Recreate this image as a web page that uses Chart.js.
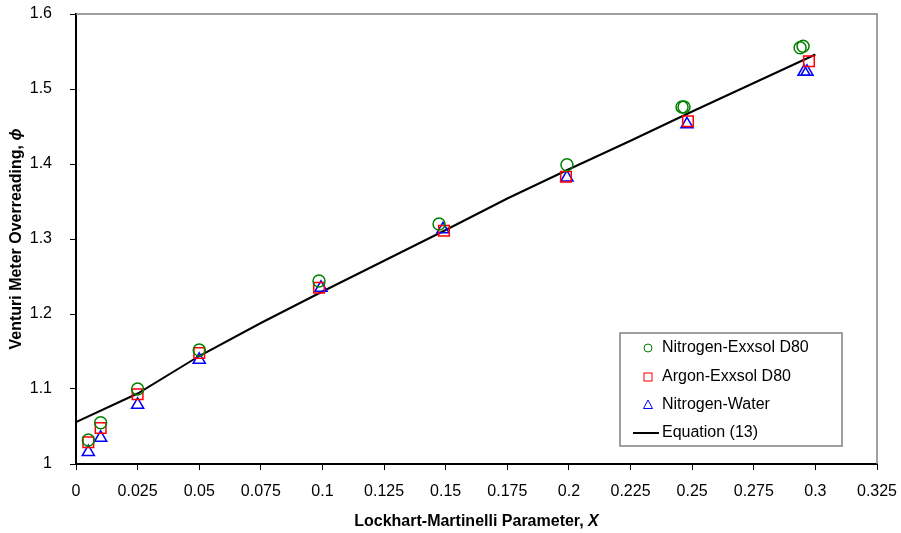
<!DOCTYPE html>
<html>
<head>
<meta charset="utf-8">
<title>Venturi Meter Overreading</title>
<script src="https://cdn.jsdelivr.net/npm/chart.js@4/dist/chart.umd.min.js"></script>
<style>
  body { margin: 0; background: #fff; }
  #wrap { width: 901px; height: 533px; position: relative; }
</style>
</head>
<body>
<div id="wrap"><canvas id="overreadingChart"></canvas></div>
<script>
// tick labels
const xTicks = [0, 0.025, 0.05, 0.075, 0.1, 0.125, 0.15, 0.175, 0.2, 0.225, 0.25, 0.275, 0.3, 0.325];
const yTicks = [1, 1.1, 1.2, 1.3, 1.4, 1.5, 1.6];

// series
const n2ExxsolX = [0.005, 0.01, 0.025, 0.05, 0.0986, 0.1473, 0.1992, 0.2459, 0.2467, 0.2938, 0.295];
const n2ExxsolY = [1.032, 1.055, 1.100, 1.152, 1.244, 1.320, 1.399, 1.476, 1.476, 1.555, 1.557];

const arExxsolX = [0.005, 0.01, 0.025, 0.05, 0.0986, 0.1493, 0.1988, 0.2483, 0.2974];
const arExxsolY = [1.029, 1.048, 1.093, 1.148, 1.235, 1.311, 1.383, 1.457, 1.537];

const n2WaterX = [0.005, 0.01, 0.025, 0.05, 0.0994, 0.1489, 0.1992, 0.2479, 0.2954, 0.2966];
const n2WaterY = [1.016, 1.035, 1.079, 1.139, 1.235, 1.313, 1.382, 1.453, 1.523, 1.523];

const eqX = [0, 0.025, 0.05, 0.075, 0.1, 0.125, 0.15, 0.175, 0.2, 0.225, 0.25, 0.275, 0.3];
const eqY = [1.056, 1.094, 1.144, 1.188, 1.230, 1.271, 1.312, 1.354, 1.393, 1.431, 1.470, 1.508, 1.546];

const seriesNames = ['Nitrogen-Exxsol D80', 'Argon-Exxsol D80', 'Nitrogen-Water', 'Equation (13)'];
const seriesColors = ['#008000', '#ff0000', '#0000ff', '#000000'];

const toPoints = (xs, ys) => xs.map((x, i) => ({ x: x, y: ys[i] }));

const FONT = "'Liberation Sans', Arial, sans-serif";
Chart.defaults.font.family = FONT;
Chart.defaults.font.size = 16;
Chart.defaults.color = '#000';

// gray top/right frame of the plot area
const framePlugin = {
  id: 'frame',
  beforeDatasetsDraw(chart) {
    const { ctx, chartArea: a } = chart;
    ctx.save();
    ctx.strokeStyle = '#808080';
    ctx.lineWidth = 1.5;
    ctx.beginPath();
    ctx.moveTo(a.left, a.top);
    ctx.lineTo(a.right, a.top);
    ctx.lineTo(a.right, a.bottom);
    ctx.stroke();
    ctx.restore();
  }
};

// draws mixed bold / bold-italic text centred on (0,0)
const drawMixed = (ctx, plain, ital) => {
  ctx.font = 'bold 16px ' + FONT;
  const w1 = ctx.measureText(plain).width;
  ctx.font = 'italic bold 16px ' + FONT;
  const w2 = ctx.measureText(ital).width;
  const start = -(w1 + w2) / 2;
  ctx.textBaseline = 'middle';
  ctx.textAlign = 'left';
  ctx.font = 'bold 16px ' + FONT;
  ctx.fillText(plain, start, 0);
  ctx.font = 'italic bold 16px ' + FONT;
  ctx.fillText(ital, start + w1, 0);
};

const titlesPlugin = {
  id: 'titles',
  afterDraw(chart) {
    const { ctx, chartArea: a } = chart;
    ctx.save();
    ctx.fillStyle = '#000';
    ctx.translate((a.left + a.right) / 2, 522);
    drawMixed(ctx, 'Lockhart-Martinelli Parameter, ', 'X');
    ctx.restore();

    ctx.save();
    ctx.fillStyle = '#000';
    ctx.translate(17, (a.top + a.bottom) / 2);
    ctx.rotate(-Math.PI / 2);
    drawMixed(ctx, 'Venturi Meter Overreading, ', '\u03D5');
    ctx.restore();
  }
};

// legend box in the lower right of the plot
const legendPlugin = {
  id: 'boxLegend',
  afterDraw(chart) {
    const ctx = chart.ctx;
    const bx = 620, by = 333, bw = 222, bh = 113;
    ctx.save();
    ctx.fillStyle = '#fff';
    ctx.fillRect(bx, by, bw, bh);
    ctx.strokeStyle = '#808080';
    ctx.lineWidth = 1.5;
    ctx.strokeRect(bx, by, bw, bh);

    const rows = [348, 377, 405, 433];
    const mx = 648;
    ctx.lineWidth = 1;
    // circle
    ctx.strokeStyle = seriesColors[0];
    ctx.beginPath();
    ctx.arc(mx, rows[0], 4, 0, Math.PI * 2);
    ctx.stroke();
    // square
    ctx.strokeStyle = seriesColors[1];
    ctx.strokeRect(mx - 4, rows[1] - 4, 8, 8);
    // triangle
    ctx.strokeStyle = seriesColors[2];
    ctx.beginPath();
    ctx.moveTo(mx, rows[2] - 5);
    ctx.lineTo(mx + 4.5, rows[2] + 3.5);
    ctx.lineTo(mx - 4.5, rows[2] + 3.5);
    ctx.closePath();
    ctx.stroke();
    // line
    ctx.strokeStyle = seriesColors[3];
    ctx.lineWidth = 2;
    ctx.beginPath();
    ctx.moveTo(633, rows[3]);
    ctx.lineTo(659, rows[3]);
    ctx.stroke();

    ctx.fillStyle = '#000';
    ctx.font = '16px ' + FONT;
    ctx.textBaseline = 'middle';
    ctx.textAlign = 'left';
    seriesNames.forEach((name, i) => {
      ctx.fillText(name, 662, rows[i]);
    });
    ctx.restore();
  }
};

const ctx = document.getElementById('overreadingChart').getContext('2d');
const config = {
  type: 'scatter',
  data: {
    datasets: [
      {
        label: seriesNames[0],
        data: toPoints(n2ExxsolX, n2ExxsolY),
        pointStyle: 'circle',
        pointRadius: 6,
        borderColor: seriesColors[0],
        backgroundColor: 'rgba(0,0,0,0)',
        borderWidth: 1.5
      },
      {
        label: seriesNames[1],
        data: toPoints(arExxsolX, arExxsolY),
        pointStyle: 'rect',
        pointRadius: 7.5,
        borderColor: seriesColors[1],
        backgroundColor: 'rgba(0,0,0,0)',
        borderWidth: 1.5
      },
      {
        label: seriesNames[2],
        data: toPoints(n2WaterX, n2WaterY),
        pointStyle: 'triangle',
        pointRadius: 7,
        borderColor: seriesColors[2],
        backgroundColor: 'rgba(0,0,0,0)',
        borderWidth: 1.5
      },
      {
        label: seriesNames[3],
        data: toPoints(eqX, eqY),
        showLine: true,
        pointRadius: 0,
        borderColor: seriesColors[3],
        backgroundColor: seriesColors[3],
        borderWidth: 2,
        tension: 0
      }
    ]
  },
  options: {
    responsive: true,
    maintainAspectRatio: false,
    animation: false,
    events: [],
    layout: { padding: { top: 14, right: 24, left: 0, bottom: 0 } },
    plugins: {
      legend: { display: false },
      tooltip: { enabled: false }
    },
    scales: {
      x: {
        type: 'linear',
        min: 0,
        max: 0.325,
        afterBuildTicks: (scale) => { scale.ticks = xTicks.map(v => ({ value: v })); },
        afterFit: (scale) => {
          scale.height = 69;
          scale.paddingLeft = 0;
          scale.paddingRight = 0;
        },
        ticks: {
          autoSkip: false,
          maxRotation: 0,
          padding: 12,
          callback: (v) => String(v)
        },
        grid: {
          display: true,
          drawOnChartArea: false,
          drawTicks: true,
          tickLength: 6,
          tickColor: '#000'
        },
        border: { color: '#000', width: 2 }
      },
      y: {
        type: 'linear',
        min: 1,
        max: 1.6,
        afterBuildTicks: (scale) => { scale.ticks = yTicks.map(v => ({ value: v })); },
        afterFit: (scale) => {
          scale.width = 76;
          scale.paddingTop = 0;
          scale.paddingBottom = 0;
        },
        ticks: {
          padding: 18,
          callback: (v) => String(v)
        },
        grid: {
          display: true,
          drawOnChartArea: false,
          drawTicks: true,
          tickLength: 6,
          tickColor: '#000'
        },
        border: { color: '#000', width: 2 }
      }
    }
  },
  plugins: [framePlugin, legendPlugin, titlesPlugin]
};
new Chart(ctx, config);
</script>
</body>
</html>
